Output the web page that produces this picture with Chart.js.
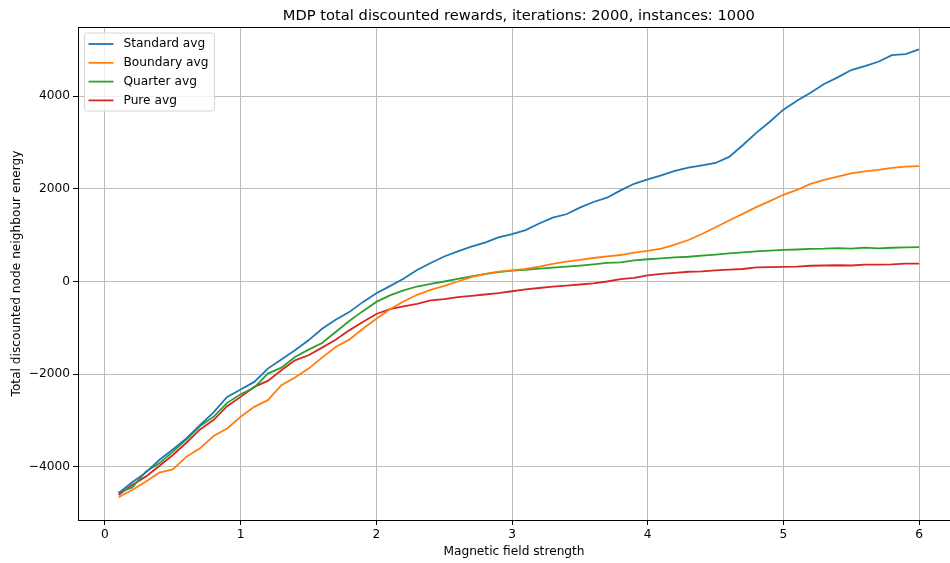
<!DOCTYPE html>
<html lang="en">
  <head>
    <meta charset="UTF-8" />
    <title>MDP total discounted rewards</title>
    <script src="https://cdn.jsdelivr.net/npm/chart.js"></script>
    <style>
      html, body { margin: 0; padding: 0; background: #fff; }
      #wrap { width: 950px; height: 563px; position: relative; }
    </style>
  </head>
  <body>
    <div id="wrap"><canvas id="chart"></canvas></div>

    <script>
      const fieldStrength = [
        0.1, 0.2, 0.3, 0.4, 0.5, 0.6, 0.7, 0.8, 0.9, 1.0,
        1.1, 1.2, 1.3, 1.4, 1.5, 1.6, 1.7, 1.8, 1.9, 2.0,
        2.1, 2.2, 2.3, 2.4, 2.5, 2.6, 2.7, 2.8, 2.9, 3.0,
        3.1, 3.2, 3.3, 3.4, 3.5, 3.6, 3.7, 3.8, 3.9, 4.0,
        4.1, 4.2, 4.3, 4.4, 4.5, 4.6, 4.7, 4.8, 4.9, 5.0,
        5.1, 5.2, 5.3, 5.4, 5.5, 5.6, 5.7, 5.8, 5.9, 6.0,
      ];

      const standardAvg = [
        -4566, -4330, -4122, -3850, -3620, -3383, -3097, -2824, -2488, -2329,
        -2165, -1878, -1684, -1484, -1269, -1018, -824, -660, -445, -255,
        -100, 60, 250, 400, 540, 650, 750, 840, 950, 1020,
        1107, 1250, 1378, 1450, 1593, 1714, 1807, 1964, 2107, 2200,
        2289, 2383, 2455, 2505, 2556, 2686, 2939, 3206, 3444, 3705,
        3899, 4071, 4258, 4401, 4559, 4645, 4739, 4882, 4904, 5004,
      ];

      const boundaryAvg = [
        -4652, -4495, -4316, -4122, -4050, -3778, -3598, -3333, -3168, -2918,
        -2703, -2559, -2237, -2072, -1878, -1641, -1413, -1254, -1018, -803,
        -600, -430, -287, -179, -93, 0, 93, 165, 215, 240,
        271, 321, 378, 428, 464, 507, 543, 571, 621, 660,
        710, 794, 895, 1025, 1170, 1314, 1458, 1603, 1733, 1870,
        1974, 2104, 2190, 2262, 2333, 2377, 2405, 2448, 2477, 2490,
      ];

      const quarterAvg = [
        -4553, -4444, -4100, -3921, -3670, -3405, -3118, -2918, -2617, -2430,
        -2287, -1986, -1857, -1627, -1470, -1326, -1090, -853, -639, -440,
        -300, -190, -108, -50, 0, 57, 108, 158, 200, 235,
        250, 278, 300, 321, 343, 371, 400, 414, 457, 480,
        500, 520, 534, 556, 578, 606, 628, 650, 664, 680,
        690, 705, 708, 720, 708, 730, 715, 728, 738, 740,
      ];

      const pureAvg = [
        -4602, -4387, -4208, -3978, -3742, -3477, -3190, -2989, -2688, -2488,
        -2273, -2144, -1914, -1699, -1591, -1426, -1254, -1054, -875, -700,
        -595, -538, -480, -409, -380, -337, -308, -280, -251, -210,
        -170, -140, -110, -90, -65, -40, 0, 50, 80, 130,
        165, 185, 210, 220, 240, 255, 270, 305, 310, 315,
        320, 340, 345, 350, 345, 365, 365, 370, 385, 385,
      ];

      const xTicks = [0, 1, 2, 3, 4, 5, 6];
      const yTicks = [-4000, -2000, 0, 2000, 4000];

      const FONT = "'DejaVu Sans', sans-serif";
      const TITLE = "MDP total discounted rewards, iterations: 2000, instances: 1000";

      function series(values) {
        return values.map((v, i) => ({ x: fieldStrength[i], y: v }));
      }

      // top spine, centred title and the boxed legend in the upper-left corner
      const decorations = {
        id: "decorations",
        afterDraw(chart) {
          const ctx = chart.ctx;
          const area = chart.chartArea;
          const xs = chart.scales.x;

          ctx.save();
          ctx.strokeStyle = "#000";
          ctx.lineWidth = 1;
          ctx.beginPath();
          ctx.moveTo(area.left, area.top + 0.5);
          ctx.lineTo(area.right, area.top + 0.5);
          ctx.stroke();

          // title sits over the full axes width (right part runs past the canvas)
          const axesCenter = (xs.getPixelForValue(-0.195) + xs.getPixelForValue(6.295)) / 2;
          ctx.fillStyle = "#000";
          ctx.font = "14.7px " + FONT;
          ctx.textAlign = "center";
          ctx.textBaseline = "alphabetic";
          ctx.fillText(TITLE, axesCenter, 20);

          // legend
          const bx = area.left + 6.5, by = area.top + 6, bw = 130, bh = 78;
          ctx.fillStyle = "rgba(255,255,255,0.8)";
          ctx.strokeStyle = "#d6d6d6";
          ctx.lineWidth = 1;
          ctx.beginPath();
          ctx.roundRect(bx, by, bw, bh, 3);
          ctx.fill();
          ctx.stroke();

          ctx.font = "12.2px " + FONT;
          ctx.textAlign = "left";
          ctx.textBaseline = "middle";
          chart.data.datasets.forEach((ds, i) => {
            const ry = by + 11 + i * 18.8;
            ctx.strokeStyle = ds.borderColor;
            ctx.lineWidth = 1.8;
            ctx.beginPath();
            ctx.moveTo(bx + 4, ry);
            ctx.lineTo(bx + 29, ry);
            ctx.stroke();
            ctx.fillStyle = "#000";
            ctx.fillText(ds.label, bx + 39, ry);
          });
          ctx.restore();
        },
      };

      function createChart() {
        const ctx = document.getElementById("chart").getContext("2d");

        const lineStyle = {
          borderWidth: 1.8,
          pointRadius: 0,
          tension: 0,
          fill: false,
        };

        new Chart(ctx, {
          type: "line",
          data: {
            datasets: [
              { label: "Standard avg", data: series(standardAvg), borderColor: "#1f77b4", ...lineStyle },
              { label: "Boundary avg", data: series(boundaryAvg), borderColor: "#ff7f0e", ...lineStyle },
              { label: "Quarter avg", data: series(quarterAvg), borderColor: "#2ca02c", ...lineStyle },
              { label: "Pure avg", data: series(pureAvg), borderColor: "#d62728", ...lineStyle },
            ],
          },
          options: {
            responsive: true,
            maintainAspectRatio: false,
            animation: false,
            devicePixelRatio: 1,
            layout: { padding: { top: 27, left: 0, right: 0, bottom: 0 } },
            plugins: {
              legend: { display: false },
              title: { display: false },
              tooltip: { enabled: false },
            },
            scales: {
              x: {
                type: "linear",
                min: -0.199,
                max: 6.228,
                afterFit: (scale) => { scale.height = 43; },
                afterBuildTicks: (scale) => {
                  scale.ticks = xTicks.map((v) => ({ value: v }));
                },
                ticks: {
                  color: "#000",
                  padding: 3,
                  maxRotation: 0,
                  font: { family: FONT, size: 12.2 },
                  callback: (v) => String(v),
                },
                grid: {
                  color: "#bdbdbd",
                  lineWidth: 1,
                  tickColor: "#000",
                  tickLength: 5,
                },
                border: { display: true, color: "#000", width: 1 },
                title: {
                  display: true,
                  text: "Magnetic field strength",
                  color: "#000",
                  font: { family: FONT, size: 12.2 },
                  padding: { top: 0, bottom: 4 },
                },
              },
              y: {
                type: "linear",
                min: -5143,
                max: 5488,
                afterFit: (scale) => { scale.width = 78; },
                afterBuildTicks: (scale) => {
                  scale.ticks = yTicks.map((v) => ({ value: v }));
                },
                ticks: {
                  color: "#000",
                  padding: 3,
                  font: { family: FONT, size: 12.2 },
                  callback: (v) => (v < 0 ? "\u2212" + Math.abs(v) : String(v)),
                },
                grid: {
                  color: "#bdbdbd",
                  lineWidth: 1,
                  tickColor: "#000",
                  tickLength: 5,
                },
                border: { display: true, color: "#000", width: 1 },
                title: {
                  display: true,
                  text: "Total discounted node neighbour energy",
                  color: "#000",
                  font: { family: FONT, size: 12.2 },
                  padding: { top: 10, bottom: 0 },
                },
              },
            },
          },
          plugins: [decorations],
        });
      }

      document.addEventListener("DOMContentLoaded", createChart);
    </script>
  </body>
</html>
